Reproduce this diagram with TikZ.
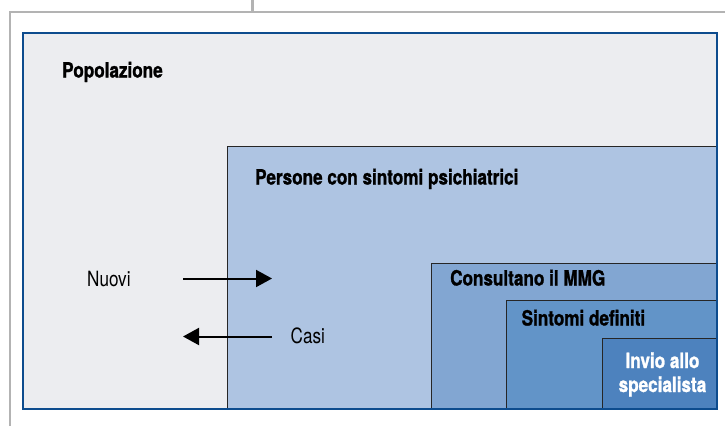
\documentclass[tikz,border=0pt]{standalone}
\usepackage{fontspec}
\setmainfont{TeX Gyre Heros}[FakeStretch=0.815, BoldFeatures={FakeBold=1.2}]
\usetikzlibrary{arrows.meta}

\definecolor{popfill}{HTML}{ECEDF0}
\definecolor{perfill}{HTML}{AEC4E2}
\definecolor{mmgfill}{HTML}{82A6D2}
\definecolor{deffill}{HTML}{6294C8}
\definecolor{invfill}{HTML}{4D82BE}
\definecolor{borderblue}{HTML}{0D4C8E}
\definecolor{framegray}{HTML}{B3B3B3}

\tikzset{
  boxlabel/.style={inner sep=0pt, anchor=base west, font=\bfseries\fontsize{21}{24}\selectfont},
  flowlabel/.style={inner sep=0pt, anchor=base west, font=\fontsize{21}{24}\selectfont},
  flow/.style={line width=2pt, -{Triangle[length=16pt,width=17pt]}},
  level/.style={line width=0.8pt, draw=black!85}
}

\begin{document}
\begin{tikzpicture}[x=1pt,y=-1pt]
  \useasboundingbox (0,0) rectangle (725,426);

  \newcommand\Rgt{717};
  \newcommand\Bot{409};

  %% gray frame
  \draw[framegray, line width=2pt] (10,426) -- (10,12) -- (725,12);
  \draw[framegray, line width=3.5pt] (252.5,0) -- (252.5,12);

  %% nested boxes
  \fill[popfill] (23,33) rectangle (\Rgt,\Bot);
  \draw[level, fill=perfill] (227,146) rectangle (\Rgt,\Bot);
  \draw[level, fill=mmgfill] (431,263.5) rectangle (\Rgt,\Bot);
  \draw[level, fill=deffill] (506,300.5) rectangle (\Rgt,\Bot);
  \draw[level, fill=invfill] (602.5,338) rectangle (\Rgt,\Bot);
  \draw[borderblue, line width=2pt] (23,33) rectangle (\Rgt,\Bot);

  \node[boxlabel] (pop) at (62,77.5) {Popolazione};
  \node[boxlabel] (per) at (255,184.5) {Persone con sintomi psichiatrici};
  \node[boxlabel] (mmg) at (450,285.5) {Consultano il MMG};
  \node[boxlabel] (def) at (521.5,325.5) {Sintomi definiti};
  \node[boxlabel, anchor=base, align=center, text=white] (inv) at (662.5,392) {Invio allo\\specialista};

  %% flows in and out
  \node[flowlabel] (nuovi) at (87,286) {Nuovi};
  \node[flowlabel] (casi) at (290.5,343.5) {Casi};
  \coordinate (in-a) at (183,278.5);
  \coordinate (in-b) at (272,278.5);
  \coordinate (out-a) at (272,336.5);
  \coordinate (out-b) at (183,336.5);
  \draw[flow] (in-a) -- (in-b); % Nuovi
  \draw[flow] (out-a) -- (out-b); % Casi
\end{tikzpicture}
\end{document}
